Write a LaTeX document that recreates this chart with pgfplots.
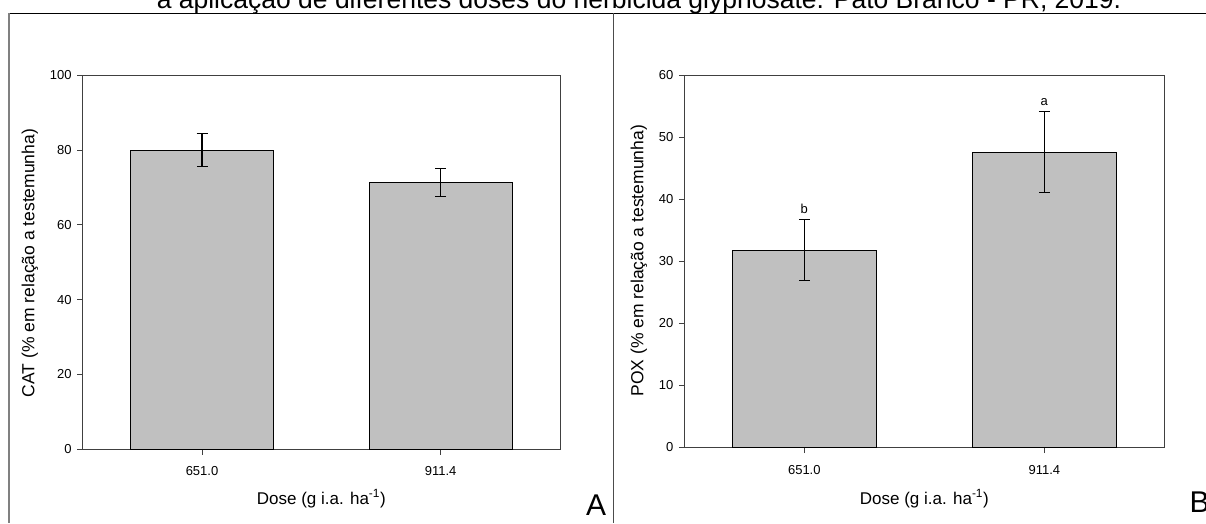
\documentclass[border=0pt]{standalone}
\usepackage{fontspec}
\setmainfont{Liberation Sans}
\usepackage{pgfplots}
\pgfplotsset{compat=1.18}
\definecolor{barfill}{RGB}{192,192,192}
\definecolor{framegray}{RGB}{128,128,128}
\definecolor{axisgray}{RGB}{64,64,64}

\pgfplotsset{
  panel/.style={
    scale only axis,
    anchor=south west,
    ybar, bar width=0.6,
    xmin=-0.5, xmax=1.5, ymin=0,
    xtick={0,1}, xticklabels={651.0,911.4},
    tick align=outside, major tick length=5.5pt,
    tick pos=left,
    axis line style={axisgray, line width=1pt},
    every tick/.style={axisgray, line width=1pt},
    /pgf/number format/assume math mode=true,
    tick label style={font=\fontsize{13}{15}\selectfont},
    yticklabel style={xshift=-2pt},
    xticklabel style={yshift=-8.5pt},
    clip=false,
  },
  bars/.style={
    fill=barfill, draw=black, line width=0.9pt,
    error bars/.cd,
      y dir=both, y explicit,
      error bar style={black, line width=1.1pt},
      error mark options={rotate=90, black, line width=1.1pt, mark size=5.5pt},
  },
}

\begin{document}
\begin{tikzpicture}
\useasboundingbox (0,0) rectangle (1206pt,523pt);
\clip (0,0) rectangle (1206pt,523pt);

% page frame and caption
\draw[black, line width=1.5pt] (8.7pt,509.7pt) -- (1206pt,509.7pt);
\draw[framegray, line width=2pt] (8.7pt,509.7pt) -- (8.7pt,0pt);
\draw[black!70, line width=1pt] (613.3pt,509.7pt) -- (613.3pt,0pt);
\node[anchor=base, font=\fontsize{26.5}{30}\selectfont] at (639pt,514pt)
  {a aplicação de diferentes doses do herbicida glyphosate. Pato Branco - PR, 2019.};

% panel A: CAT
\begin{axis}[panel,
  at={(82.7pt,73.7pt)}, width=477.3pt, height=374pt,
  ymax=100, ytick={0,20,...,100}]
\addplot[bars] coordinates {
  (0,80.0) +- (0,4.4)
  (1,71.3) +- (0,3.8)
};
\end{axis}

% panel B: POX
\begin{axis}[panel,
  at={(684.3pt,75.5pt)}, width=480pt, height=372.2pt,
  ymax=60, ytick={0,10,...,60}]
\addplot[bars] coordinates {
  (0,31.8) +- (0,4.9)
  (1,47.6) +- (0,6.55)
};
\node[anchor=base, font=\fontsize{13}{15}\selectfont, yshift=6pt] at (axis cs:0,36.7) {b};
\node[anchor=base, font=\fontsize{13}{15}\selectfont, yshift=6pt] at (axis cs:1,54.15) {a};
\end{axis}

% axis titles
\node[rotate=90, font=\fontsize{17.5}{20}\selectfont] at (30pt,260pt) {CAT (\% em relação a testemunha)};
\node[rotate=90, font=\fontsize{17.5}{20}\selectfont] at (639pt,262.2pt) {POX (\% em relação a testemunha)};
\node[anchor=base, font=\fontsize{17}{20}\selectfont] at (321.3pt,19pt) {Dose (g i.a. ha\textsuperscript{-1})};
\node[anchor=base, font=\fontsize{17}{20}\selectfont] at (924.3pt,19pt) {Dose (g i.a. ha\textsuperscript{-1})};

% panel letters
\node[anchor=base, font=\fontsize{30}{34}\selectfont] at (596.2pt,8pt) {A};
\node[anchor=base, font=\fontsize{30}{34}\selectfont] at (1199.5pt,10.3pt) {B};
\end{tikzpicture}
\end{document}
